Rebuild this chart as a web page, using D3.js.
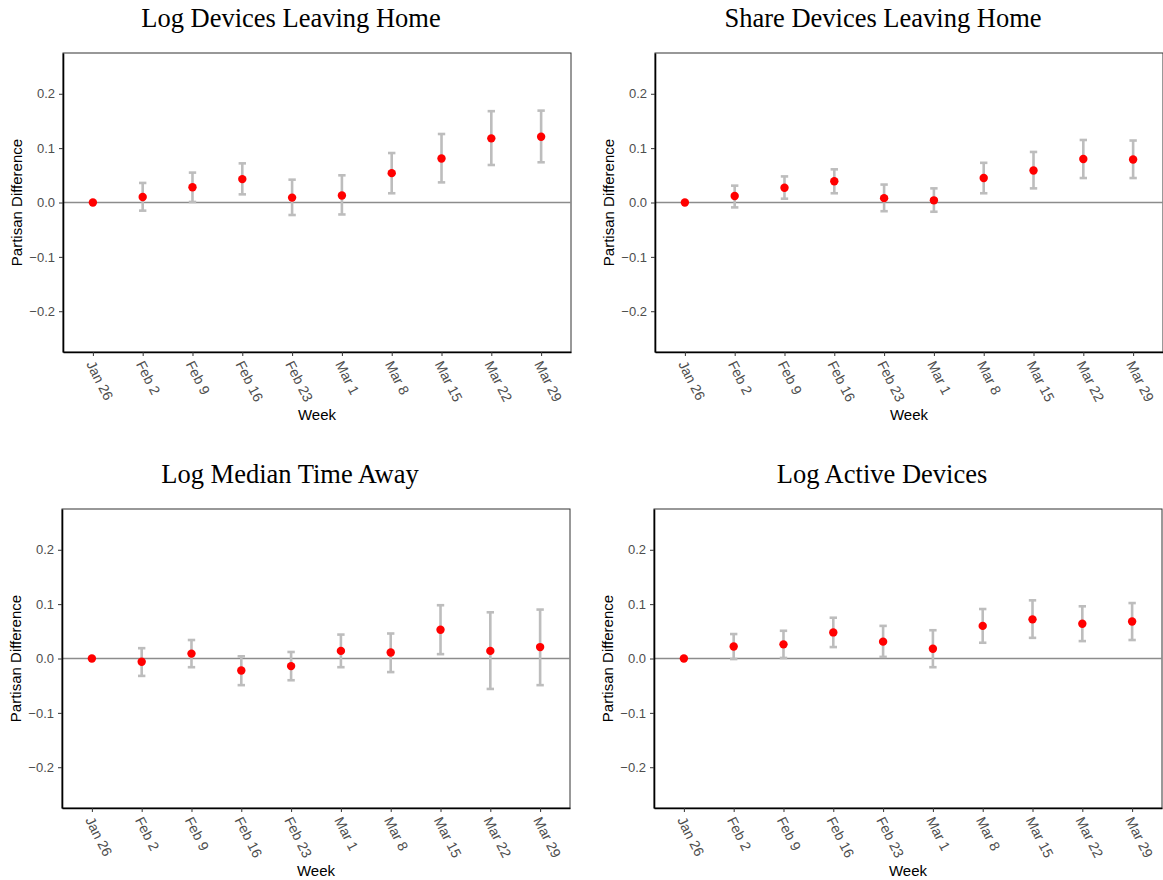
<!DOCTYPE html>
<html>
<head>
<meta charset="utf-8">
<script src="https://cdn.jsdelivr.net/npm/d3@7"></script>
<style>
  body { margin: 0; background: #fff; }
  svg { display: block; }
</style>
</head>
<body>
<div id="chart"></div>
<script>
const weeks = ["Jan 26", "Feb 2", "Feb 9", "Feb 16", "Feb 23", "Mar 1", "Mar 8", "Mar 15", "Mar 22", "Mar 29"];
const yTicks = [-0.2, -0.1, 0.0, 0.1, 0.2];

const titles = ["Log Devices Leaving Home", "Share Devices Leaving Home", "Log Median Time Away", "Log Active Devices"];

// point estimates and 95% bounds per panel
const logLeaveEst = [0, 0.010, 0.028, 0.043, 0.009, 0.013, 0.054, 0.081, 0.118, 0.121];
const logLeaveLo  = [0, -0.015, 0.001, 0.015, -0.023, -0.022, 0.017, 0.037, 0.069, 0.074];
const logLeaveHi  = [0, 0.036, 0.055, 0.072, 0.042, 0.050, 0.091, 0.126, 0.168, 0.169];

const shareLeaveEst = [0, 0.012, 0.027, 0.039, 0.008, 0.004, 0.045, 0.059, 0.080, 0.079];
const shareLeaveLo  = [0, -0.009, 0.007, 0.017, -0.016, -0.017, 0.017, 0.026, 0.045, 0.045];
const shareLeaveHi  = [0, 0.031, 0.048, 0.061, 0.033, 0.026, 0.073, 0.093, 0.115, 0.114];

const timeAwayEst = [0, -0.006, 0.009, -0.022, -0.014, 0.014, 0.011, 0.053, 0.014, 0.021];
const timeAwayLo  = [0, -0.032, -0.016, -0.049, -0.040, -0.016, -0.025, 0.008, -0.056, -0.049];
const timeAwayHi  = [0, 0.019, 0.034, 0.004, 0.012, 0.044, 0.046, 0.098, 0.085, 0.090];

const activeEst = [0, 0.022, 0.026, 0.048, 0.031, 0.018, 0.060, 0.072, 0.064, 0.068];
const activeLo  = [0, -0.001, 0.001, 0.021, 0.003, -0.016, 0.029, 0.038, 0.032, 0.034];
const activeHi  = [0, 0.045, 0.051, 0.075, 0.060, 0.052, 0.091, 0.107, 0.096, 0.102];

const panels = [
    { title: titles[0], est: logLeaveEst, lo: logLeaveLo, hi: logLeaveHi, left: 63, top: 53 },
    { title: titles[1], est: shareLeaveEst, lo: shareLeaveLo, hi: shareLeaveHi, left: 655, top: 53 },
    { title: titles[2], est: timeAwayEst, lo: timeAwayLo, hi: timeAwayHi, left: 62, top: 509 },
    { title: titles[3], est: activeEst, lo: activeLo, hi: activeHi, left: 654, top: 509 }
];

const WIDTH = 1163;
const HEIGHT = 880;
const PW = 508;
const PH = 299;
const SANS = "Liberation Sans, Arial, Helvetica, sans-serif";

const svg = d3.select("#chart")
    .append("svg")
    .attr("width", WIDTH)
    .attr("height", HEIGHT);

const fmt = v => (v < 0 ? "\u2212" : "") + Math.abs(v).toFixed(1);

panels.forEach(p => {
    const g = svg.append("g").attr("transform", `translate(${p.left},${p.top})`);

    const x = d3.scalePoint().domain(weeks).range([0, PW]).padding(0.6);
    const y = d3.scaleLinear().domain([-0.275, 0.275]).range([PH, 0]);

    const rows = weeks.map((w, i) => ({ week: w, est: p.est[i], lo: p.lo[i], hi: p.hi[i] }));

    // title
    g.append("text")
        .attr("x", 228)
        .attr("y", -26)
        .attr("text-anchor", "middle")
        .attr("font-family", "Liberation Serif, Times New Roman, serif")
        .attr("font-size", 26.5)
        .attr("fill", "#000")
        .text(p.title);

    // border
    g.append("rect")
        .attr("width", PW)
        .attr("height", PH)
        .attr("fill", "none")
        .attr("stroke", "#333")
        .attr("stroke-width", 1);

    // zero reference line
    g.append("line")
        .attr("x1", 0).attr("x2", PW)
        .attr("y1", y(0)).attr("y2", y(0))
        .attr("stroke", "#8c8c8c")
        .attr("stroke-width", 1.3);

    // y axis
    const yAxis = g.append("g")
        .call(d3.axisLeft(y).tickValues(yTicks).tickFormat(fmt).tickSizeInner(4).tickSizeOuter(0).tickPadding(4));
    yAxis.select(".domain").attr("stroke", "#000").attr("stroke-width", 1.6);
    yAxis.selectAll(".tick line").attr("stroke", "#333");
    yAxis.selectAll(".tick text")
        .attr("font-family", SANS)
        .attr("font-size", 13)
        .attr("fill", "#4d4d4d");

    // x axis
    const xAxis = g.append("g")
        .attr("transform", `translate(0,${PH})`)
        .call(d3.axisBottom(x).tickSizeInner(4).tickSizeOuter(0));
    xAxis.select(".domain").attr("stroke", "#000").attr("stroke-width", 1.6);
    xAxis.selectAll(".tick line").attr("stroke", "#333");
    xAxis.selectAll(".tick text")
        .attr("font-family", SANS)
        .attr("font-size", 14)
        .attr("fill", "#4d4d4d")
        .attr("text-anchor", "start")
        .attr("x", 0)
        .attr("y", 0)
        .attr("dy", 0)
        .attr("transform", "translate(-7.5,12) rotate(63)");

    // axis titles
    g.append("text")
        .attr("x", PW / 2)
        .attr("y", PH + 68)
        .attr("text-anchor", "middle")
        .attr("font-family", SANS)
        .attr("font-size", 15)
        .attr("fill", "#000")
        .text("Week");

    g.append("text")
        .attr("transform", `translate(-41,${PH / 2}) rotate(-90)`)
        .attr("text-anchor", "middle")
        .attr("font-family", SANS)
        .attr("font-size", 15)
        .attr("fill", "#000")
        .text("Partisan Difference");

    // error bars
    const bars = g.append("g")
        .selectAll("g")
        .data(rows.filter(d => d.hi !== d.lo))
        .join("g")
        .attr("stroke", "#bdbdbd")
        .attr("stroke-width", 2.6);
    bars.append("line")
        .attr("x1", d => x(d.week)).attr("x2", d => x(d.week))
        .attr("y1", d => y(d.lo)).attr("y2", d => y(d.hi));
    bars.append("line")
        .attr("x1", d => x(d.week) - 3.7).attr("x2", d => x(d.week) + 3.7)
        .attr("y1", d => y(d.lo)).attr("y2", d => y(d.lo));
    bars.append("line")
        .attr("x1", d => x(d.week) - 3.7).attr("x2", d => x(d.week) + 3.7)
        .attr("y1", d => y(d.hi)).attr("y2", d => y(d.hi));

    // points
    g.append("g")
        .selectAll("circle")
        .data(rows)
        .join("circle")
        .attr("cx", d => x(d.week))
        .attr("cy", d => y(d.est))
        .attr("r", 4.2)
        .attr("fill", "#ff0000");
});
</script>
</body>
</html>
